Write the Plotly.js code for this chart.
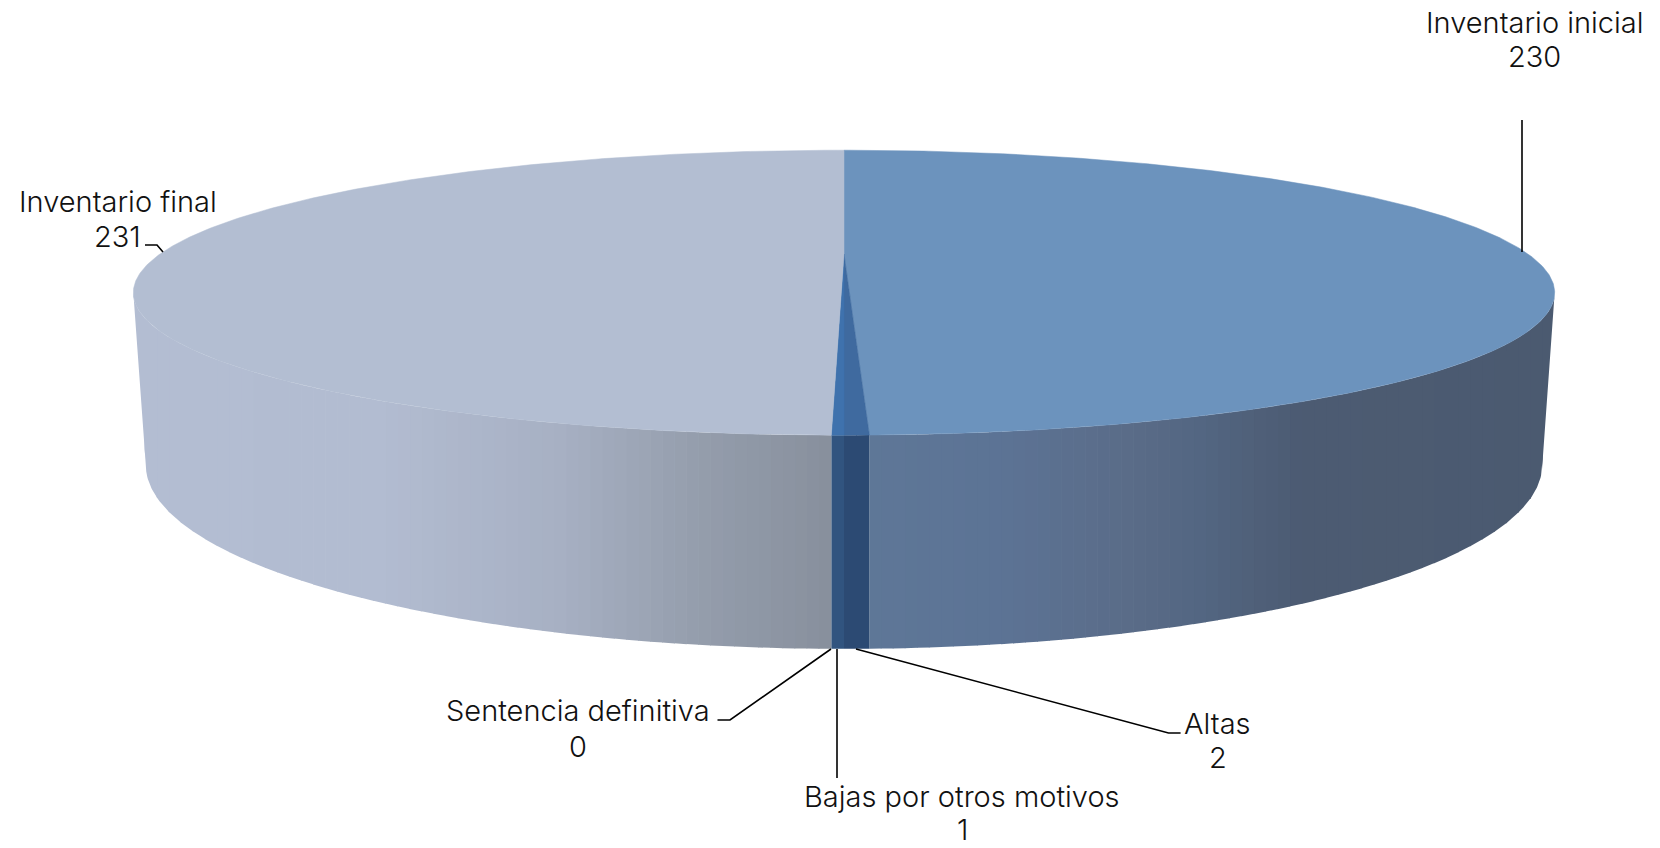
<!DOCTYPE html>
<html>
<head>
<meta charset="utf-8">
<script src="https://cdn.plot.ly/plotly-3.0.1.min.js"></script>
<style>html,body{margin:0;padding:0;background:#fff;overflow:hidden}</style>
</head>
<body>
<div id="chart" style="width:1660px;height:848px"></div>
<script>
const categories = ["Inventario inicial", "Altas", "Bajas por otros motivos", "Sentencia definitiva", "Inventario final"];
const values = [230, 2, 1, 0, 231];

const topColors = ["#6c93bd", "#3f6a9f", "#3f72ad", "#3f72ad", "#b3bed2"];
// side colour stops per slice: [screen x, [r,g,b]]
const sideStops = [
  [[869,[94,119,151]],[1000,[92,115,149]],[1130,[90,108,136]],[1200,[83,102,130]],[1300,[76,91,114]],[1560,[75,90,112]]],
  [[840,[44,74,115]],[875,[44,74,115]]],
  [[825,[49,84,127]],[850,[49,84,127]]],
  [[825,[49,84,127]],[850,[49,84,127]]],
  [[130,[179,189,210]],[380,[178,188,209]],[560,[167,176,195]],[700,[148,157,172]],[780,[141,149,163]],[835,[135,143,156]]]
];

// label centres and leader lines, in page pixels
const labelX = [1534.6, 1217.5, 962, 578, 117.5];
const nameY = [22, 723, 796, 710, 201];
const valueY = [56, 757, 829.5, 746, 236];
const leaderX = [[1522,1522],[856,1168.5,1180.6],[837,837],[831,730,717.5],[145,157,163]];
const leaderY = [[120,252],[649,733,733],[649,778],[649,720,720],[245,245,252]];

// pie projection (perspective disc)
const cx = 844, k = 0.2714, bandWidth = 12, bandSamples = 24;
const topPlane = {A: 684, B: 132, y0: 254};
const botPlane = {A: 672, B: 170.4, y0: 415};
function project(p, deg) {
  const t = deg * Math.PI / 180, X = Math.sin(t), Y = -Math.cos(t), d = 1 - k * Y;
  return [cx + p.A * X / d, p.y0 + p.B * Y / d];
}
function ellipseOf(p) {
  const q = 1 - k * k;
  return {rx: p.A / Math.sqrt(q), ry: p.B / q, cy: p.y0 + p.B * k / q};
}
const eT = ellipseOf(topPlane), eB = ellipseOf(botPlane);
function frontY(e, x) {
  const u = Math.min(1, Math.abs(x - cx) / e.rx);
  return e.cy + e.ry * Math.sqrt(1 - u * u);
}
function bottomY(x) {
  const d = Math.abs(x - cx);
  if (d <= eB.rx) return frontY(eB, x);
  return eB.cy + (eT.cy - eB.cy) * (d - eB.rx) / (eT.rx - eB.rx);
}
function sideColor(stops, x) {
  if (x <= stops[0][0]) return stops[0][1];
  for (let i = 1; i < stops.length; i++) {
    if (x <= stops[i][0]) {
      const f = (x - stops[i-1][0]) / (stops[i][0] - stops[i-1][0]);
      return stops[i-1][1].map((v, j) => v + f * (stops[i][1][j] - v));
    }
  }
  return stops[stops.length-1][1];
}
const total = values.reduce((a, b) => a + b, 0);
const edgeR = 180 - Math.acos(k) * 180 / Math.PI, edgeL = 360 - edgeR;
const traces = [], tops = [];
let acc = 0;
values.forEach((v, i) => {
  const a0 = acc / total * 360, a1 = (acc + v) / total * 360;
  acc += v;
  if (v === 0) return;
  // top face
  const xs = [cx], ys = [topPlane.y0];
  const n = Math.max(2, Math.ceil((a1 - a0) * 2));
  for (let j = 0; j <= n; j++) {
    const p = project(topPlane, a0 + (a1 - a0) * j / n);
    xs.push(p[0]); ys.push(p[1]);
  }
  xs.push(cx); ys.push(topPlane.y0);
  tops.push({x: xs, y: ys, mode: "lines", fill: "toself", fillcolor: topColors[i],
    line: {color: topColors[i], width: 0.5}, hoverinfo: "skip", showlegend: false, name: categories[i]});
  // visible wall, cut into vertical colour bands from right to left
  const s0 = Math.max(a0, edgeR), s1 = Math.min(a1, edgeL);
  if (s1 <= s0) return;
  const xRight = project(topPlane, s0)[0], xLeft = project(topPlane, s1)[0];
  const m = Math.max(1, Math.round((xRight - xLeft) / bandWidth));
  for (let j = 0; j < m; j++) {
    const xr = xRight - (xRight - xLeft) * j / m;
    const xl = Math.max(xLeft, xRight - (xRight - xLeft) * (j + 1) / m - 0.7);
    const px = [], py = [], bx = [], by = [];
    for (let q = 0; q <= bandSamples; q++) {
      const x = xl + (xr - xl) * q / bandSamples;
      px.push(x); py.push(frontY(eT, x));
      bx.unshift(x); by.unshift(bottomY(x));
    }
    const c = sideColor(sideStops[i], (xl + xr) / 2).map(Math.round);
    const col = "rgb(" + c.join(",") + ")";
    traces.push({x: px.concat(bx, [px[0]]), y: py.concat(by, [py[0]]),
      mode: "lines", fill: "toself", fillcolor: col, line: {color: col, width: 0},
      hoverinfo: "skip", showlegend: false, name: categories[i]});
  }
});
const leaders = leaderX.map((xs, i) => ({x: xs, y: leaderY[i], mode: "lines",
  line: {color: "#000", width: 1.6}, hoverinfo: "skip", showlegend: false, name: categories[i]}));
const labelFont = {family: "Inter, 'Open Sans', sans-serif", size: 29, color: "#111", weight: 300};
const annotations = [];
categories.forEach((c, i) => {
  annotations.push({x: labelX[i], y: nameY[i], xref: "x", yref: "y", xanchor: "center", yanchor: "middle",
    text: c, showarrow: false, font: labelFont});
  annotations.push({x: labelX[i], y: valueY[i], xref: "x", yref: "y", xanchor: "center", yanchor: "middle",
    text: String(values[i]), showarrow: false, font: labelFont});
});
Plotly.newPlot("chart", traces.concat(tops, leaders), {
  width: 1660, height: 848, margin: {l: 0, r: 0, t: 0, b: 0},
  paper_bgcolor: "#fff", plot_bgcolor: "#fff", showlegend: false,
  xaxis: {range: [0, 1660], visible: false, fixedrange: true},
  yaxis: {range: [848, 0], visible: false, fixedrange: true},
  annotations: annotations
}, {displayModeBar: false, staticPlot: true});
</script>
</body>
</html>
